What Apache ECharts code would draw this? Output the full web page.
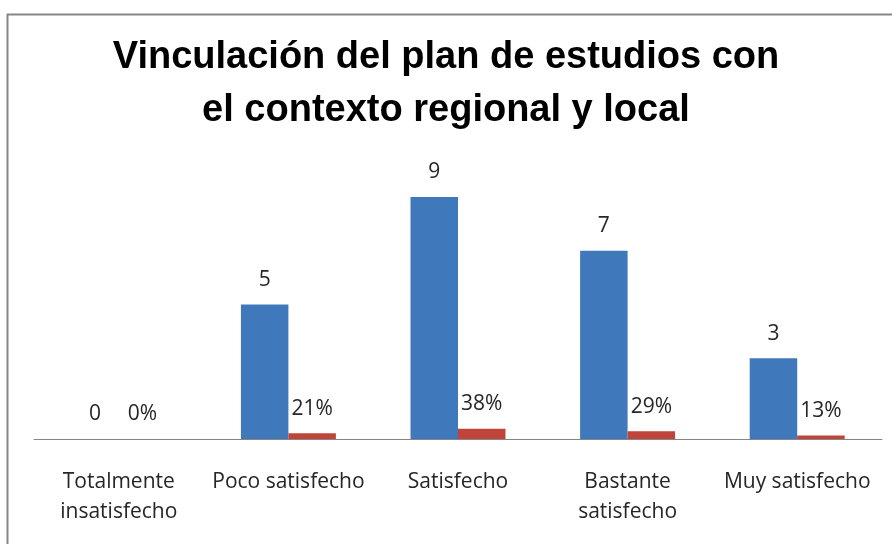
<!DOCTYPE html>
<html>
<head>
<meta charset="utf-8">
<script src="https://cdn.jsdelivr.net/npm/echarts@6/dist/echarts.min.js"></script>
<style>
  html, body { margin: 0; padding: 0; background: #fff; }
  #chart { width: 892px; height: 544px; }
</style>
</head>
<body>
<div id="chart"></div>
<script>
// datos
const categories = ['Totalmente\ninsatisfecho', 'Poco satisfecho', 'Satisfecho', 'Bastante\nsatisfecho', 'Muy satisfecho'];
const frecuencia = [0, 5, 9, 7, 3];
const porcentaje = [0, 0.21, 0.38, 0.29, 0.13];

const chart = echarts.init(document.getElementById('chart'));
const titleFont = '"Liberation Sans", Arial, sans-serif';
const labelFont = '"Open Sans", "Liberation Sans", sans-serif';

chart.setOption({
  animation: false,
  title: {
    text: 'Vinculación del plan de estudios con\nel contexto regional y local',
    left: 'center',
    top: 26,
    textStyle: {
      fontFamily: titleFont,
      fontSize: 38,
      fontWeight: 'bold',
      color: '#000',
      lineHeight: 53
    }
  },
  graphic: [{
    type: 'rect',
    left: 5,
    top: 12,
    shape: { width: 900, height: 600 },
    style: { fill: 'none', stroke: '#868686', lineWidth: 2 },
    silent: true
  }],
  grid: {
    left: 34,
    right: 10,
    top: 170,
    bottom: 105
  },
  xAxis: {
    type: 'category',
    data: categories,
    axisLine: { lineStyle: { color: '#868686', width: 1 } },
    axisTick: { show: false },
    axisLabel: {
      interval: 0,
      margin: 28,
      fontFamily: labelFont,
      fontSize: 21,
      lineHeight: 30,
      color: '#262626'
    }
  },
  yAxis: {
    type: 'value',
    min: 0,
    max: 10,
    show: false,
    splitLine: { show: false }
  },
  series: [{
    name: 'Frecuencia',
    type: 'bar',
    data: frecuencia,
    barGap: '0%',
    barCategoryGap: '44%',
    itemStyle: { color: '#4079BB' },
    label: {
      show: true,
      position: 'top',
      distance: 14,
      fontFamily: labelFont,
      fontSize: 21,
      color: '#262626'
    }
  }, {
    name: 'Porcentaje',
    type: 'bar',
    data: porcentaje,
    itemStyle: { color: '#C0443A' },
    label: {
      show: true,
      position: 'top',
      distance: 14,
      fontFamily: labelFont,
      fontSize: 21,
      color: '#262626',
      formatter: function(p) {
        return Math.round(p.value * 100) + '%';
      }
    }
  }]
});
</script>
</body>
</html>
